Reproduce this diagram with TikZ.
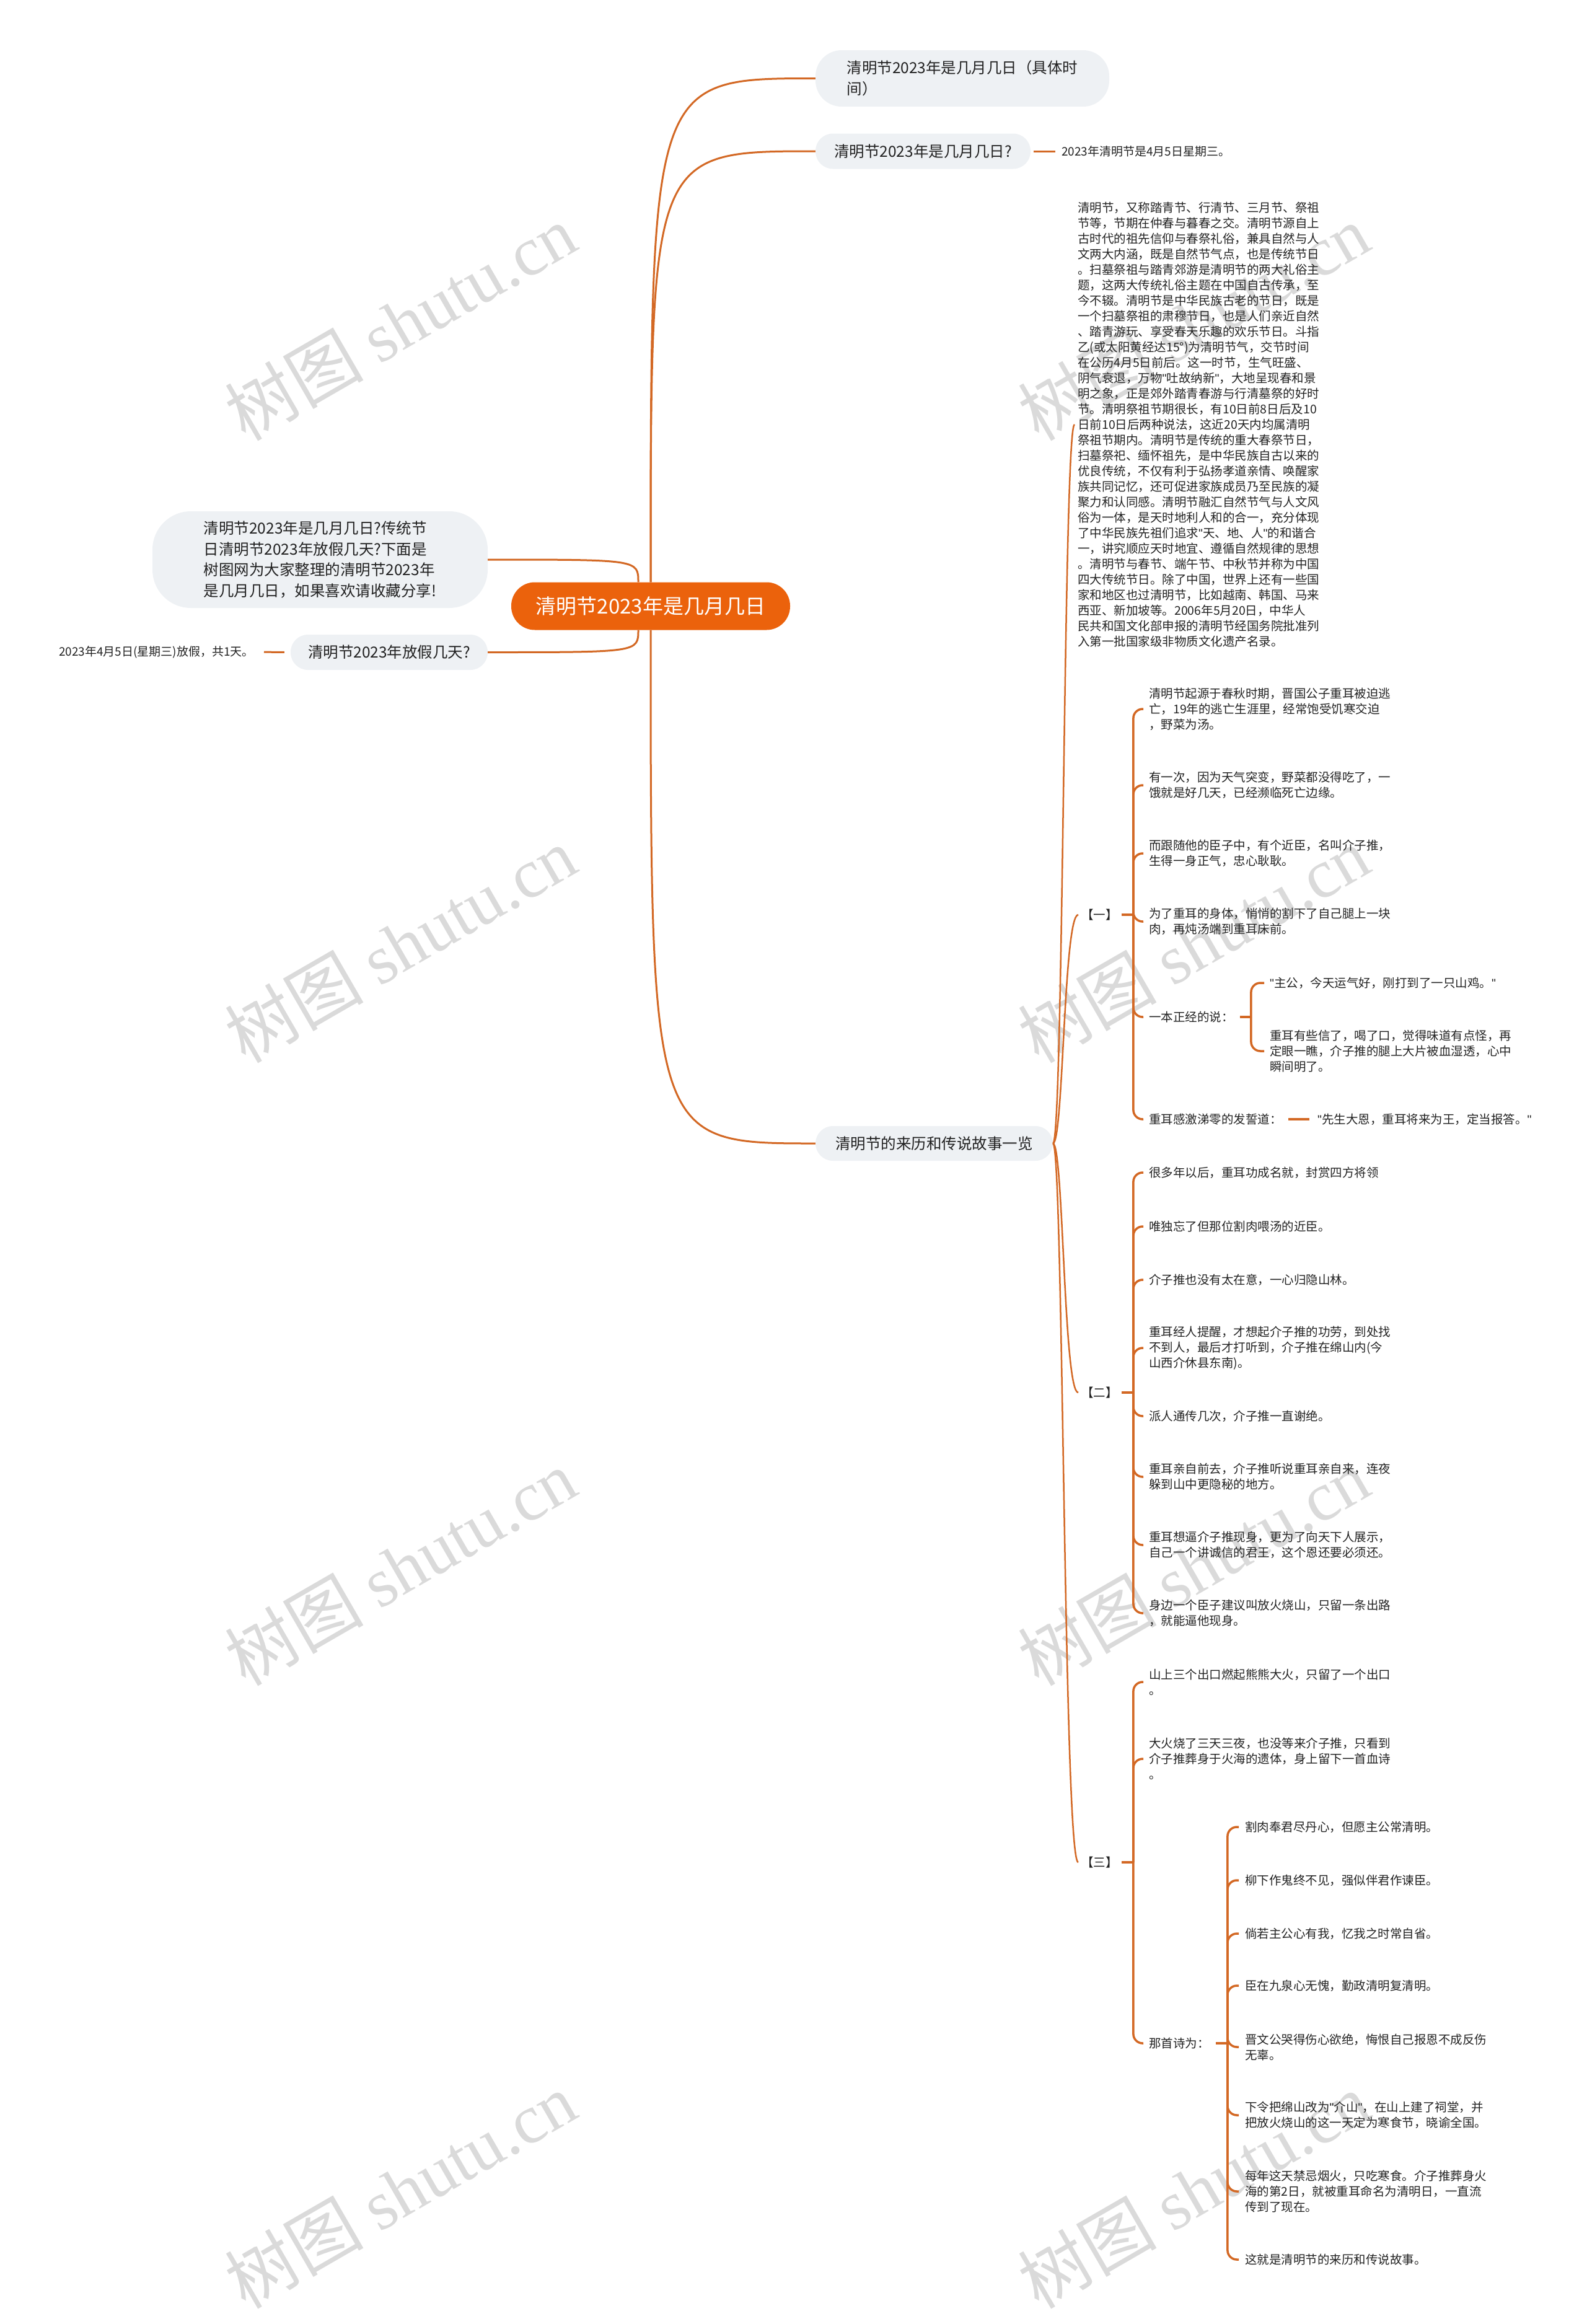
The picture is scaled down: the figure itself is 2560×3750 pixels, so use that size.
\documentclass[tikz,border=0pt]{standalone}
\usepackage{fontspec}
\setmainfont{Noto Sans CJK SC}
\newfontfamily\wmfont{Liberation Serif}
\newfontfamily\qfont{Liberation Sans}
\newcommand\dq{{\qfont"}}
\definecolor{linec}{RGB}{211,104,36}
\definecolor{rootc}{RGB}{235,98,12}
\definecolor{boxc}{RGB}{238,241,244}
\definecolor{textc}{RGB}{34,34,34}
\definecolor{wmc}{RGB}{218,218,218}
\newcommand\fsroot{\fontsize{33}{40}\selectfont}
\newcommand\fsbr{\fontsize{24.5}{34}\selectfont}
\newcommand\fsintro{\fontsize{24.5}{33.5}\selectfont}
\newcommand\fssm{\fontsize{19.5}{25}\selectfont}
\newcommand\fsleaf{\fontsize{19}{25}\selectfont}
\newcommand\fswm{\fontsize{112}{120}\selectfont}
\begin{document}
\begin{tikzpicture}[x=1pt,y=-1pt,
  rootbox/.style={fill=rootc,text=white,rounded corners=38pt,minimum width=450pt,minimum height=77pt,inner sep=0pt,font=\fsroot},
  brbox/.style={fill=boxc,text=textc,inner sep=0pt,align=left,font=\fsbr},
  leaf/.style={text=textc,inner sep=0pt,align=left,font=\fssm},
  rconn/.style={draw=linec,line width=3pt},
  sconn/.style={draw=linec,line width=2.5pt},
  brk/.style={draw=linec,line width=3.5pt,rounded corners=15pt},
  wm/.style={text=wmc,font=\fswm,rotate=30,inner sep=0pt}]
\useasboundingbox (0,0) rectangle (2560,3750);

% watermarks
\node[wm] (wm1) at (646,520) {树图 {\wmfont shutu.cn}};
\node[wm] (wm2) at (646,1524) {树图 {\wmfont shutu.cn}};
\node[wm] (wm3) at (646,2529) {树图 {\wmfont shutu.cn}};
\node[wm] (wm4) at (646,3534) {树图 {\wmfont shutu.cn}};
\node[wm] (wm5) at (1926,520) {树图 {\wmfont shutu.cn}};
\node[wm] (wm6) at (1926,1524) {树图 {\wmfont shutu.cn}};
\node[wm] (wm7) at (1926,2529) {树图 {\wmfont shutu.cn}};
\node[wm] (wm8) at (1926,3534) {树图 {\wmfont shutu.cn}};

% root and first level
\node[rootbox] (root) at (1050,978) {清明节2023年是几月几日};
\node[brbox,minimum width=474pt,minimum height=91pt,rounded corners=42pt] (b1) at (1553,126.5) {清明节2023年是几月几日（具体时\\间）};
\node[brbox,minimum width=347pt,minimum height=57pt,rounded corners=28pt] (b2) at (1489.5,244) {清明节2023年是几月几日?};
\node[leaf,font=\fsleaf,anchor=west] (b2l) at (1713,244) {2023年清明节是4月5日星期三。};
\node[brbox,minimum width=383pt,minimum height=56pt,rounded corners=28pt] (b4) at (1507.5,1845) {清明节的来历和传说故事一览};
\node[brbox,font=\fsintro,minimum width=541pt,minimum height=156pt,rounded corners=62pt] (intro) at (516.5,903) {清明节2023年是几月几日?传统节\\日清明节2023年放假几天?下面是\\树图网为大家整理的清明节2023年\\是几月几日，如果喜欢请收藏分享!};
\node[brbox,minimum width=318pt,minimum height=57pt,rounded corners=28pt] (fj) at (628,1052.5) {清明节2023年放假几天?};
\node[leaf,font=\fsleaf,anchor=east] (fjl) at (410,1052) {2023年4月5日(星期三)放假，共1天。};

\coordinate (rnl) at ([xshift=-20pt]root.north);
\coordinate (rsl) at ([xshift=-20pt]root.south);
\draw[rconn] (root.north) .. controls (root.north |- b1.west) .. (b1.west);
\draw[rconn] (root.north) .. controls (root.north |- b2.west) .. (b2.west);
\draw[rconn] (root.south) .. controls (root.south |- b4.west) .. (b4.west);
\draw[rconn] (rnl) .. controls (rnl |- intro.east) .. (intro.east);
\draw[rconn] (rsl) .. controls (rsl |- fj.east) .. (fj.east);
\draw[rconn,shorten <=5pt,shorten >=10pt] (b2.east) -- (b2l.west);
\draw[rconn,shorten <=10pt,shorten >=16pt] (fj.west) -- (fjl.east);

% branch 4 children
\node[leaf,anchor=west] (para) at (1739,685) {清明节，又称踏青节、行清节、三月节、祭祖\\节等，节期在仲春与暮春之交。清明节源自上\\古时代的祖先信仰与春祭礼俗，兼具自然与人\\文两大内涵，既是自然节气点，也是传统节日\\。扫墓祭祖与踏青郊游是清明节的两大礼俗主\\题，这两大传统礼俗主题在中国自古传承，至\\今不辍。清明节是中华民族古老的节日，既是\\一个扫墓祭祖的肃穆节日，也是人们亲近自然\\、踏青游玩、享受春天乐趣的欢乐节日。斗指\\乙(或太阳黄经达15°)为清明节气，交节时间\\在公历4月5日前后。这一时节，生气旺盛、\\阴气衰退，万物\dq 吐故纳新\dq ，大地呈现春和景\\明之象，正是郊外踏青春游与行清墓祭的好时\\节。清明祭祖节期很长，有10日前8日后及10\\日前10日后两种说法，这近20天内均属清明\\祭祖节期内。清明节是传统的重大春祭节日，\\扫墓祭祀、缅怀祖先，是中华民族自古以来的\\优良传统，不仅有利于弘扬孝道亲情、唤醒家\\族共同记忆，还可促进家族成员乃至民族的凝\\聚力和认同感。清明节融汇自然节气与人文风\\俗为一体，是天时地利人和的合一，充分体现\\了中华民族先祖们追求\dq 天、地、人\dq 的和谐合\\一，讲究顺应天时地宜、遵循自然规律的思想\\。清明节与春节、端午节、中秋节并称为中国\\四大传统节日。除了中国，世界上还有一些国\\家和地区也过清明节，比如越南、韩国、马来\\西亚、新加坡等。2006年5月20日，中华人\\民共和国文化部申报的清明节经国务院批准列\\入第一批国家级非物质文化遗产名录。};
\node[leaf,anchor=west] (yi) at (1745,1476) {【一】};
\node[leaf,anchor=west] (er) at (1745,2247) {【二】};
\node[leaf,anchor=west] (san) at (1745,3005) {【三】};
\coordinate (b4s) at ([xshift=17pt]b4.east);
\foreach \c in {para,yi,er,san}
  \draw[sconn] (b4.east) .. controls (b4s) and (b4s |- \c.west) .. ([xshift=-5pt]\c.west);

% 【一】
\node[leaf,anchor=west] (y1a) at (1854,1144) {清明节起源于春秋时期，晋国公子重耳被迫逃\\亡，19年的逃亡生涯里，经常饱受饥寒交迫\\，野菜为汤。};
\node[leaf,anchor=west] (y1b) at (1854,1267) {有一次，因为天气突变，野菜都没得吃了，一\\饿就是好几天，已经濒临死亡边缘。};
\node[leaf,anchor=west] (y1c) at (1854,1377) {而跟随他的臣子中，有个近臣，名叫介子推，\\生得一身正气，忠心耿耿。};
\node[leaf,anchor=west] (y1d) at (1854,1487) {为了重耳的身体，悄悄的割下了自己腿上一块\\肉，再炖汤端到重耳床前。};
\node[leaf,anchor=west] (y1e) at (1854,1641) {一本正经的说：};
\node[leaf,anchor=west] (y1f) at (1854,1806) {重耳感激涕零的发誓道：};
\node[leaf,anchor=west] (y1e1) at (2049,1586) {\dq 主公，今天运气好，刚打到了一只山鸡。\dq};
\node[leaf,anchor=west] (y1e2) at (2049,1696) {重耳有些信了，喝了口，觉得味道有点怪，再\\定眼一瞧，介子推的腿上大片被血湿透，心中\\瞬间明了。};
\node[leaf,anchor=west] (y1f1) at (2126,1806) {\dq 先生大恩，重耳将来为王，定当报答。\dq};
\coordinate (yis) at ([xshift=25pt]yi.east);
\draw[brk] ([xshift=6pt]yi.east) -- (yis);
\foreach \c in {y1a,y1b,y1c,y1d,y1e,y1f}
  \draw[brk] (yis) |- ([xshift=-9pt]\c.west);
\coordinate (y1es) at ([xshift=28pt]y1e.east);
\draw[brk] ([xshift=10pt]y1e.east) -- (y1es);
\foreach \c in {y1e1,y1e2}
  \draw[brk] (y1es) |- ([xshift=-9pt]\c.west);
\draw[brk] ([xshift=10pt]y1f.east) -- ([xshift=-13pt]y1f1.west);

% 【二】
\node[leaf,anchor=west] (e1) at (1854,1892) {很多年以后，重耳功成名就，封赏四方将领};
\node[leaf,anchor=west] (e2) at (1854,1979) {唯独忘了但那位割肉喂汤的近臣。};
\node[leaf,anchor=west] (e3) at (1854,2065) {介子推也没有太在意，一心归隐山林。};
\node[leaf,anchor=west] (e4) at (1854,2175) {重耳经人提醒，才想起介子推的功劳，到处找\\不到人，最后才打听到，介子推在绵山内(今\\山西介休县东南)。};
\node[leaf,anchor=west] (e5) at (1854,2285) {派人通传几次，介子推一直谢绝。};
\node[leaf,anchor=west] (e6) at (1854,2383) {重耳亲自前去，介子推听说重耳亲自来，连夜\\躲到山中更隐秘的地方。};
\node[leaf,anchor=west] (e7) at (1854,2493) {重耳想逼介子推现身，更为了向天下人展示，\\自己一个讲诚信的君王，这个恩还要必须还。};
\node[leaf,anchor=west] (e8) at (1854,2603) {身边一个臣子建议叫放火烧山，只留一条出路\\，就能逼他现身。};
\coordinate (ers) at ([xshift=25pt]er.east);
\draw[brk] ([xshift=6pt]er.east) -- (ers);
\foreach \c in {e1,e2,e3,e4,e5,e6,e7,e8}
  \draw[brk] (ers) |- ([xshift=-9pt]\c.west);

% 【三】
\node[leaf,anchor=west] (s1) at (1854,2714) {山上三个出口燃起熊熊大火，只留了一个出口\\。};
\node[leaf,anchor=west] (s2) at (1854,2838) {大火烧了三天三夜，也没等来介子推，只看到\\介子推葬身于火海的遗体，身上留下一首血诗\\。};
\node[leaf,anchor=west] (s3) at (1854,3297) {那首诗为：};
\node[leaf,anchor=west] (p1) at (2009,2948) {割肉奉君尽丹心，但愿主公常清明。};
\node[leaf,anchor=west] (p2) at (2009,3034) {柳下作鬼终不见，强似伴君作谏臣。};
\node[leaf,anchor=west] (p3) at (2009,3120) {倘若主公心有我，忆我之时常自省。};
\node[leaf,anchor=west] (p4) at (2009,3204) {臣在九泉心无愧，勤政清明复清明。};
\node[leaf,anchor=west] (p5) at (2009,3303) {晋文公哭得伤心欲绝，悔恨自己报恩不成反伤\\无辜。};
\node[leaf,anchor=west] (p6) at (2009,3413) {下令把绵山改为\dq 介山\dq ，在山上建了祠堂，并\\把放火烧山的这一天定为寒食节，晓谕全国。};
\node[leaf,anchor=west] (p7) at (2009,3536) {每年这天禁忌烟火，只吃寒食。介子推葬身火\\海的第2日，就被重耳命名为清明日，一直流\\传到了现在。};
\node[leaf,anchor=west] (p8) at (2009,3646) {这就是清明节的来历和传说故事。};
\coordinate (sans) at ([xshift=25pt]san.east);
\draw[brk] ([xshift=6pt]san.east) -- (sans);
\foreach \c in {s1,s2,s3}
  \draw[brk] (sans) |- ([xshift=-9pt]\c.west);
\coordinate (s3s) at ([xshift=29pt]s3.east);
\draw[brk] ([xshift=10pt]s3.east) -- (s3s);
\foreach \c in {p1,p2,p3,p4,p5,p6,p7,p8}
  \draw[brk] (s3s) |- ([xshift=-10pt]\c.west);
\end{tikzpicture}
\end{document}
